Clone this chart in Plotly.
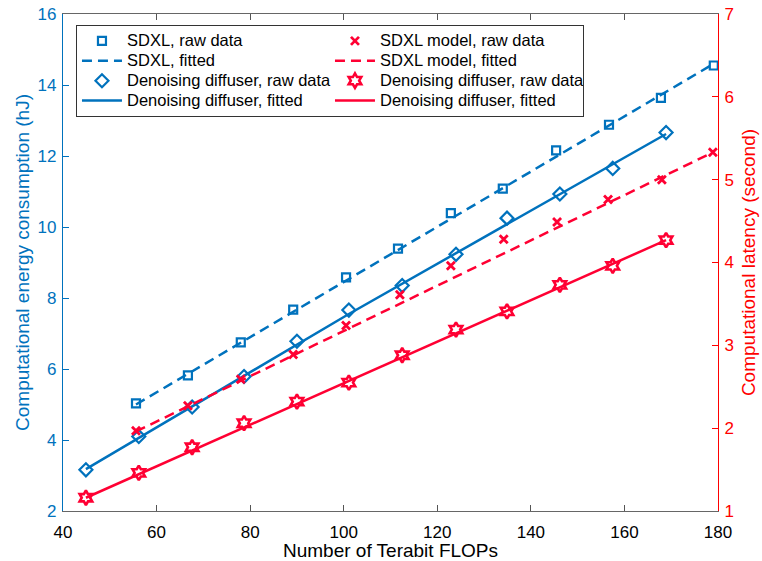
import plotly.graph_objects as go

BLUE = "#0072BD"
RED = "#FF0033"
AXRED = "#FF0000"

# SDXL raw (left axis, energy hJ)
sdxl_x = [55.6, 66.7, 78.0, 89.2, 100.5, 111.6, 122.9, 134.0, 145.4, 156.7, 167.8, 179.1]
sdxl_energy = [5.03, 5.82, 6.75, 7.67, 8.58, 9.39, 10.39, 11.08, 12.16, 12.88, 13.64, 14.55]
sdxl_fit_x = [55.6, 179.1]
sdxl_fit_energy = [5.0, 14.6]

# Denoising diffuser raw (left axis)
dd_x = [44.9, 56.2, 67.6, 78.7, 90.0, 101.1, 112.5, 124.0, 134.9, 146.2, 157.5, 168.9]
dd_energy = [3.16, 4.10, 4.93, 5.79, 6.78, 7.66, 8.35, 9.23, 10.25, 10.93, 11.65, 12.66]
dd_fit_x = [44.9, 101.1, 168.9]
dd_fit_energy = [3.18, 7.55, 12.62]

# SDXL model raw (right axis, latency s)
sdxlm_x = [55.6, 66.7, 78.0, 89.2, 100.5, 112.0, 122.9, 134.2, 145.6, 156.5, 168.0, 178.9]
sdxlm_latency = [1.97, 2.27, 2.59, 2.89, 3.24, 3.61, 3.96, 4.28, 4.49, 4.76, 5.00, 5.33]
sdxlm_fit_x = [55.6, 178.9]
sdxlm_fit_latency = [1.96, 5.33]

# Denoising diffuser raw (right axis)
ddm_latency = [1.16, 1.46, 1.77, 2.06, 2.32, 2.55, 2.88, 3.19, 3.41, 3.73, 3.96, 4.27]
ddm_fit_x = [44.9, 168.9]
ddm_fit_latency = [1.16, 4.27]


def lg(name):
    return '<span style="font-size:16.5px">' + name + '</span>'


fig = go.Figure()

fig.add_trace(go.Scatter(x=sdxl_x, y=sdxl_energy, mode="markers", name=lg("SDXL, raw data"),
    marker=dict(symbol="square-open", size=8, color=BLUE, line=dict(width=2.2, color=BLUE))))
fig.add_trace(go.Scatter(x=sdxlm_x, y=sdxlm_latency, mode="markers", name=lg("SDXL model, raw data"), yaxis="y2",
    marker=dict(symbol="x-thin", size=8, color=RED, line=dict(width=2.8, color=RED))))
fig.add_trace(go.Scatter(x=sdxl_fit_x, y=sdxl_fit_energy, mode="lines", name=lg("SDXL, fitted"),
    line=dict(color=BLUE, width=2.5, dash="10px,6px")))
fig.add_trace(go.Scatter(x=sdxlm_fit_x, y=sdxlm_fit_latency, mode="lines", name=lg("SDXL model, fitted"), yaxis="y2",
    line=dict(color=RED, width=2.5, dash="10px,6px")))
fig.add_trace(go.Scatter(x=dd_x, y=dd_energy, mode="markers", name=lg("Denoising diffuser, raw data"),
    marker=dict(symbol="diamond-open", size=10, color=BLUE, line=dict(width=2.2, color=BLUE))))
fig.add_trace(go.Scatter(x=dd_x, y=ddm_latency, mode="markers", name=lg("Denoising diffuser, raw data"), yaxis="y2",
    marker=dict(symbol="hexagram-open", size=11, color=RED, line=dict(width=2.6, color=RED))))
fig.add_trace(go.Scatter(x=dd_fit_x, y=dd_fit_energy, mode="lines", name=lg("Denoising diffuser, fitted"),
    line=dict(color=BLUE, width=2.5)))
fig.add_trace(go.Scatter(x=ddm_fit_x, y=ddm_fit_latency, mode="lines", name=lg("Denoising diffuser, fitted"), yaxis="y2",
    line=dict(color=RED, width=2.5)))

FONT = "Liberation Sans, Arial, sans-serif"

fig.update_layout(
    width=762, height=561,
    margin=dict(l=63, r=44, t=14, b=50),
    paper_bgcolor="white", plot_bgcolor="white",
    font=dict(family=FONT, size=17, color="#262626"),
    showlegend=True,
    legend=dict(orientation="h", x=0.0198, y=0.978, xanchor="left", yanchor="top",
                bordercolor="#333333", borderwidth=1, bgcolor="white",
                entrywidth=198, font=dict(size=13, color="#000000"),
                tracegroupgap=0, itemwidth=40),
    xaxis=dict(range=[40, 180], tickvals=[40, 60, 80, 100, 120, 140, 160, 180],
               ticks="inside", ticklen=6, tickcolor="#555555", showline=True, linecolor="#666666",
               linewidth=1.2, mirror="ticks", showgrid=False, zeroline=False, automargin=False,
               ticklabelstandoff=5,
               tickfont=dict(size=17, color="#000000"),
               title=dict(text="Number of Terabit FLOPs", font=dict(size=19, color="#000000"), standoff=2)),
    yaxis=dict(range=[2, 16], tickvals=[2, 4, 6, 8, 10, 12, 14, 16],
               ticks="inside", ticklen=6, tickcolor=BLUE, showline=True, linecolor=BLUE, linewidth=1.2,
               showgrid=False, zeroline=False, automargin=False,
               tickfont=dict(size=17, color=BLUE), ticklabelstandoff=2,
               title=dict(text="Computational energy consumption (hJ)", font=dict(size=19, color=BLUE), standoff=2)),
    yaxis2=dict(range=[1, 7], tickvals=[1, 2, 3, 4, 5, 6, 7], overlaying="y", side="right",
                ticks="inside", ticklen=6, tickcolor=AXRED, showline=True, linecolor=AXRED, linewidth=1.2,
                showgrid=False, zeroline=False, automargin=False,
                tickfont=dict(size=17, color=AXRED), ticklabelstandoff=2,
                title=dict(text="Computational latency (second)", font=dict(size=19, color=AXRED), standoff=8)),
)

fig.write_html("out.html")
